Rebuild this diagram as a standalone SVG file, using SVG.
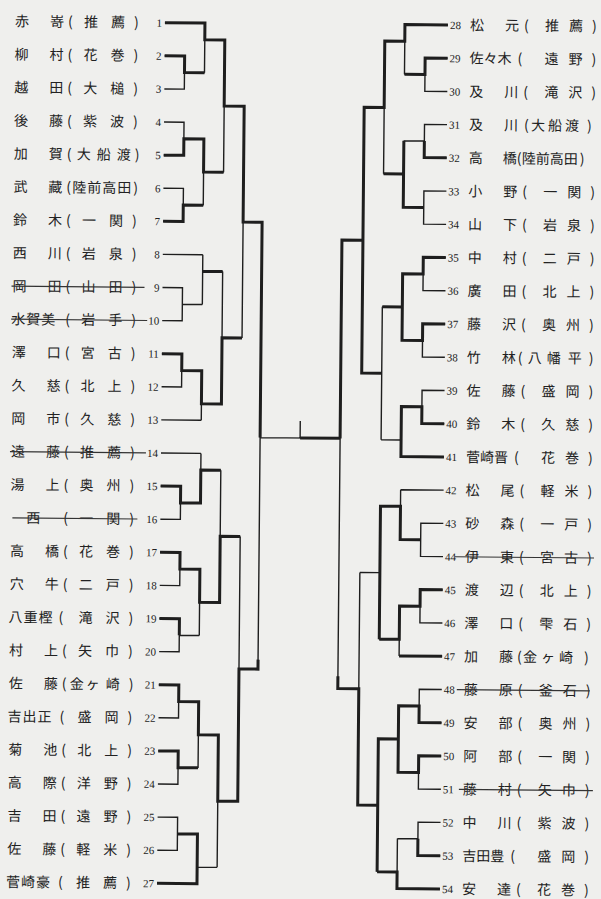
<svg xmlns="http://www.w3.org/2000/svg" width="601" height="899" viewBox="0 0 601 899">
<style>
.n{font-family:"Noto Sans CJK JP","Noto Sans CJK SC",sans-serif;font-size:14px;fill:#222}
.m{font-family:"Liberation Serif",serif;font-size:11px;fill:#222}
.ml{font-family:"Liberation Serif",serif;font-size:11px;fill:#222;text-anchor:end}
.t{fill:none;stroke:#1e1e1e;stroke-width:1.4}
.k{fill:none;stroke:#1e1e1e;stroke-width:3;stroke-linejoin:miter}
.s{stroke:#333;stroke-width:1.2}
</style>
<rect width="601" height="899" fill="#efefed"/>
<g transform="rotate(0.53 300 450)">
<g id="players-left">
<g id="p1"><text class="n" x="11 46" y="29">赤嵜</text><text class="n" x="64 80 107 130" y="29">(推薦)</text><text class="ml" x="158" y="28">1</text></g>
<g id="p2"><text class="n" x="11 46" y="62.1">柳村</text><text class="n" x="64 80 107 130" y="62.1">(花巻)</text><text class="ml" x="158" y="61.1">2</text></g>
<g id="p3"><text class="n" x="11 46" y="95.2">越田</text><text class="n" x="64 80 107 130" y="95.2">(大槌)</text><text class="ml" x="158" y="94.2">3</text></g>
<g id="p4"><text class="n" x="11 46" y="128.3">後藤</text><text class="n" x="64 80 107 130" y="128.3">(紫波)</text><text class="ml" x="158" y="127.3">4</text></g>
<g id="p5"><text class="n" x="11 46" y="161.4">加賀</text><text class="n" x="64 74 94 114 132" y="161.4">(大船渡)</text><text class="ml" x="158" y="160.4">5</text></g>
<g id="p6"><text class="n" x="11 46" y="194.5">武藏</text><text class="n" x="64 70 85 100 115 131" y="194.5">(陸前高田)</text><text class="ml" x="158" y="193.5">6</text></g>
<g id="p7"><text class="n" x="11 46" y="227.6">鈴木</text><text class="n" x="64 80 107 130" y="227.6">(一関)</text><text class="ml" x="158" y="226.6">7</text></g>
<g id="p8"><text class="n" x="11 46" y="260.7">西川</text><text class="n" x="64 80 107 130" y="260.7">(岩泉)</text><text class="ml" x="158" y="259.7">8</text></g>
<g id="p9"><text class="n" x="11 46" y="293.8">岡田</text><text class="n" x="64 80 107 130" y="293.8">(山田)</text><text class="ml" x="158" y="292.8">9</text><line class="s" x1="10" y1="288.8" x2="143" y2="288.8"/></g>
<g id="p10"><text class="n" x="10 25 40" y="326.9">水賀美</text><text class="n" x="64 80 107 130" y="326.9">(岩手)</text><text class="ml" x="158" y="325.9">10</text><line class="s" x1="10" y1="321.9" x2="146" y2="321.9"/></g>
<g id="p11"><text class="n" x="11 46" y="360">澤口</text><text class="n" x="64 80 107 130" y="360">(宮古)</text><text class="ml" x="158" y="359">11</text></g>
<g id="p12"><text class="n" x="11 46" y="393.1">久慈</text><text class="n" x="64 80 107 130" y="393.1">(北上)</text><text class="ml" x="158" y="392.1">12</text></g>
<g id="p13"><text class="n" x="11 46" y="426.2">岡市</text><text class="n" x="64 80 107 130" y="426.2">(久慈)</text><text class="ml" x="158" y="425.2">13</text></g>
<g id="p14"><text class="n" x="11 46" y="459.3">遠藤</text><text class="n" x="64 80 107 130" y="459.3">(推薦)</text><text class="ml" x="158" y="458.3">14</text><line class="s" x1="10" y1="454.3" x2="146" y2="454.3"/></g>
<g id="p15"><text class="n" x="11 46" y="492.4">湯上</text><text class="n" x="64 80 107 130" y="492.4">(奥州)</text><text class="ml" x="158" y="491.4">15</text></g>
<g id="p16"><text class="n" x="27" y="525.5">西</text><text class="n" x="64 80 107 130" y="525.5">(一関)</text><text class="ml" x="158" y="524.5">16</text><line class="s" x1="13" y1="520.5" x2="138" y2="520.5"/></g>
<g id="p17"><text class="n" x="11 46" y="558.6">高橋</text><text class="n" x="64 80 107 130" y="558.6">(花巻)</text><text class="ml" x="158" y="557.6">17</text></g>
<g id="p18"><text class="n" x="11 46" y="591.7">穴牛</text><text class="n" x="64 80 107 130" y="591.7">(二戸)</text><text class="ml" x="158" y="590.7">18</text></g>
<g id="p19"><text class="n" x="10 25 40" y="624.8">八重樫</text><text class="n" x="60 80 107 130" y="624.8">(滝沢)</text><text class="ml" x="158" y="623.8">19</text></g>
<g id="p20"><text class="n" x="11 46" y="657.9">村上</text><text class="n" x="64 80 107 130" y="657.9">(矢巾)</text><text class="ml" x="158" y="656.9">20</text></g>
<g id="p21"><text class="n" x="11 46" y="691">佐藤</text><text class="n" x="64 72 88 108 131" y="691">(金ヶ崎)</text><text class="ml" x="158" y="690">21</text></g>
<g id="p22"><text class="n" x="10 25 40" y="724.1">吉出正</text><text class="n" x="62 80 107 130" y="724.1">(盛岡)</text><text class="ml" x="158" y="723.1">22</text></g>
<g id="p23"><text class="n" x="11 46" y="757.2">菊池</text><text class="n" x="64 80 107 130" y="757.2">(北上)</text><text class="ml" x="158" y="756.2">23</text></g>
<g id="p24"><text class="n" x="11 46" y="790.3">高際</text><text class="n" x="64 80 107 130" y="790.3">(洋野)</text><text class="ml" x="158" y="789.3">24</text></g>
<g id="p25"><text class="n" x="11 46" y="823.4">吉田</text><text class="n" x="64 80 107 130" y="823.4">(遠野)</text><text class="ml" x="158" y="822.4">25</text></g>
<g id="p26"><text class="n" x="11 46" y="856.5">佐藤</text><text class="n" x="64 80 107 130" y="856.5">(軽米)</text><text class="ml" x="158" y="855.5">26</text></g>
<g id="p27"><text class="n" x="10 25 40" y="889.6">菅崎豪</text><text class="n" x="62 80 107 130" y="889.6">(推薦)</text><text class="ml" x="158" y="888.6">27</text></g>
</g>
<g id="players-right">
<g id="p28"><text class="m" x="446" y="27.6">28</text><text class="n" x="466 501" y="28.6">松元</text><text class="n" x="520 541 565 588" y="28.6">(推薦)</text></g>
<g id="p29"><text class="m" x="446" y="60.8">29</text><text class="n" x="466 480 494" y="61.8">佐々木</text><text class="n" x="514 541 565 588" y="61.8">(遠野)</text></g>
<g id="p30"><text class="m" x="446" y="94.1">30</text><text class="n" x="466 501" y="95.1">及川</text><text class="n" x="520 541 565 588" y="95.1">(滝沢)</text></g>
<g id="p31"><text class="m" x="446" y="127.3">31</text><text class="n" x="466 501" y="128.3">及川</text><text class="n" x="521 528 545 562" y="128.3">(大船渡</text><text class="n" x="584" y="128.3">)</text></g>
<g id="p32"><text class="m" x="446" y="160.5">32</text><text class="n" x="466 500" y="161.5">高橋</text><text class="n" x="514 519 533 547 561 577" y="161.5">(陸前高田)</text></g>
<g id="p33"><text class="m" x="446" y="193.8">33</text><text class="n" x="466 501" y="194.8">小野</text><text class="n" x="520 541 565 588" y="194.8">(一関)</text></g>
<g id="p34"><text class="m" x="446" y="227">34</text><text class="n" x="466 501" y="228">山下</text><text class="n" x="520 541 565 588" y="228">(岩泉)</text></g>
<g id="p35"><text class="m" x="446" y="260.2">35</text><text class="n" x="466 501" y="261.2">中村</text><text class="n" x="520 541 565 588" y="261.2">(二戸)</text></g>
<g id="p36"><text class="m" x="446" y="293.4">36</text><text class="n" x="466 501" y="294.4">廣田</text><text class="n" x="520 541 565 588" y="294.4">(北上)</text></g>
<g id="p37"><text class="m" x="446" y="326.7">37</text><text class="n" x="466 501" y="327.7">藤沢</text><text class="n" x="520 541 565 588" y="327.7">(奥州)</text></g>
<g id="p38"><text class="m" x="446" y="359.9">38</text><text class="n" x="466 501" y="360.9">竹林</text><text class="n" x="517 527 546 567 588" y="360.9">(八幡平)</text></g>
<g id="p39"><text class="m" x="446" y="393.1">39</text><text class="n" x="466 501" y="394.1">佐藤</text><text class="n" x="520 541 565 588" y="394.1">(盛岡)</text></g>
<g id="p40"><text class="m" x="446" y="426.4">40</text><text class="n" x="466 501" y="427.4">鈴木</text><text class="n" x="520 541 565 588" y="427.4">(久慈)</text></g>
<g id="p41"><text class="m" x="446" y="459.6">41</text><text class="n" x="466 480 494" y="460.6">菅崎晋</text><text class="n" x="514 541 565 588" y="460.6">(花巻)</text></g>
<g id="p42"><text class="m" x="446" y="492.8">42</text><text class="n" x="466 501" y="493.8">松尾</text><text class="n" x="520 541 565 588" y="493.8">(軽米)</text></g>
<g id="p43"><text class="m" x="446" y="526">43</text><text class="n" x="466 501" y="527">砂森</text><text class="n" x="520 541 565 588" y="527">(一戸)</text></g>
<g id="p44"><text class="m" x="446" y="559.3">44</text><text class="n" x="466 501" y="560.3">伊東</text><text class="n" x="520 541 565 588" y="560.3">(宮古)</text><line class="s" x1="456" y1="555.3" x2="595" y2="555.3"/></g>
<g id="p45"><text class="m" x="446" y="592.5">45</text><text class="n" x="466 501" y="593.5">渡辺</text><text class="n" x="520 541 565 588" y="593.5">(北上)</text></g>
<g id="p46"><text class="m" x="446" y="625.7">46</text><text class="n" x="466 501" y="626.7">澤口</text><text class="n" x="520 541 565 588" y="626.7">(雫石)</text></g>
<g id="p47"><text class="m" x="446" y="659">47</text><text class="n" x="466 501" y="660">加藤</text><text class="n" x="519 525 543 561" y="660">(金ヶ崎</text><text class="n" x="586" y="660">)</text></g>
<g id="p48"><text class="m" x="446" y="692.2">48</text><text class="n" x="466 501" y="693.2">藤原</text><text class="n" x="520 541 565 588" y="693.2">(釜石)</text><line class="s" x1="459" y1="688.2" x2="592" y2="688.2"/></g>
<g id="p49"><text class="m" x="446" y="725.4">49</text><text class="n" x="466 501" y="726.4">安部</text><text class="n" x="520 541 565 588" y="726.4">(奥州)</text></g>
<g id="p50"><text class="m" x="446" y="758.7">50</text><text class="n" x="466 501" y="759.7">阿部</text><text class="n" x="520 541 565 588" y="759.7">(一関)</text></g>
<g id="p51"><text class="m" x="446" y="791.9">51</text><text class="n" x="466 501" y="792.9">藤村</text><text class="n" x="520 541 565 588" y="792.9">(矢巾)</text><line class="s" x1="462" y1="787.9" x2="596" y2="787.9"/></g>
<g id="p52"><text class="m" x="446" y="825.1">52</text><text class="n" x="466 501" y="826.1">中川</text><text class="n" x="520 541 565 588" y="826.1">(紫波)</text></g>
<g id="p53"><text class="m" x="446" y="858.4">53</text><text class="n" x="466 480 494" y="859.4">吉田豊</text><text class="n" x="514 541 565 588" y="859.4">(盛岡)</text></g>
<g id="p54"><text class="m" x="446" y="891.6">54</text><text class="n" x="466 501" y="892.6">安達</text><text class="n" x="520 541 565 588" y="892.6">(花巻)</text></g>
</g>
<g id="connectors">
<path class="t" d="M161 24H201M161 57.1H181V90.2H161M181 73.7H201M201 24V73.7M201 40.6H221
M161 123.3H181V156.4H161M181 139.9H201M161 189.5H181V222.6H161M181 206.1H201M201 139.9V206.1M201 173H221M221 40.6V173M221 106.8H241
M161 255.7H201M161 288.8H181V321.9H161M181 305.4H201M201 255.7V305.4M201 272.3H221
M161 355H181V388.1H161M181 371.6H201M161 421.2H201M201 371.6V421.2M201 404.7H221M221 272.3V404.7M221 338.5H241
M241 106.8V338.5M241 222.6H260
M161 454.3H201M161 487.4H181V520.5H161M181 504H201M201 454.3V504M201 470.9H221
M161 553.6H181V586.7H161M181 570.2H201M161 619.8H181V652.9H161M181 636.4H201M201 570.2V636.4M201 603.3H221M221 470.9V603.3M221 537.1H241
M161 686H181V719.1H161M181 702.6H201M161 752.2H181V785.3H161M181 768.8H201M201 702.6V768.8M201 735.7H221
M161 818.4H181V851.5H161M181 835H201M161 884.6H201M201 835V884.6M201 868.1H221M221 735.7V868.1M221 801.9H241
M241 537.1V801.9M241 669.5H260M260 222.6V669.5M260 438H340M300 421V438"/>
<path class="t" d="M444 23.6H401M444 56.8H421.5V90.1H444M421.5 73.4H401M401 23.6V73.4M401 40.2H381
M444 123.3H421.5V156.5H444M421.5 139.9H401M444 189.8H421.5V223H444M421.5 206.4H401M401 139.9V206.4M401 173.1H381M381 40.2V173.1M381 106.7H361
M444 256.2H421.5V289.4H444M421.5 272.8H401M444 322.7H421.5V355.9H444M421.5 339.3H401M401 272.8V339.3M401 306H381
M444 389.1H421.5V422.4H444M421.5 405.7H401M444 455.6H401M401 405.7V455.6M401 439H381M381 306V439M381 372.5H361M361 106.7V372.5M361 239.6H340
M444 488.8H401M444 522H421.5V555.3H444M421.5 538.7H401M401 488.8V538.7M401 505.4H381
M444 588.5H421.5V621.7H444M421.5 605.1H401M444 655H401M401 605.1V655M401 638.4H381M381 505.4V638.4M381 571.9H361
M444 688.2H421.5V721.4H444M421.5 704.8H401M444 754.7H421.5V787.9H444M421.5 771.3H401M401 704.8V771.3M401 738H381
M444 821.1H421.5V854.4H444M421.5 837.7H401M444 887.6H401M401 837.7V887.6M401 871H381M381 738V871M381 804.5H361
M361 571.9V804.5M361 688.2H340M340 239.6V688.2"/>
<path class="k" d="M161 24H201V40.6H221V106.8H241V222.6H260V438
M161 57.1H181V73.7H201M161 156.4H181V139.9H201V173H221M161 222.6H181V206.1H201M201 272.3H221
M161 355H181V371.6H201V404.7H221V338.5H241
M161 487.4H181V504H201V470.9H221M161 553.6H181V570.2H201V603.3H221V537.1H241M161 619.8H181V636.4
M161 686H181V702.6H201V735.7H221V801.9H241V669.5H260V660M161 752.2H181V768.8H201M161 884.6H201V835H181
M300 438H340"/>
<path class="k" d="M444 23.6H401V40.2H381V106.7H361V239.6H340V438
M444 56.8H421.5V73.4H401M444 156.5H421.5V139.9M401 139.9V206.4H421.5M401 173.1H381
M444 256.2H421.5V272.8H401V306H381M444 322.7H421.5V339.3H401V306M381 372.5H361V239.6
M444 422.4H421.5V405.7H401V455.6H444M421.5 538.7H401V505.4H381V638.4
M444 588.5H421.5V605.1H401V638.4H381M444 655H401
M444 721.4H421.5V704.8H401V771.3H421.5V754.7H444M401 738H381V871M381 804.5H361V688.2H340V676
M444 854.4H421.5V837.7M444 887.6H401V871H381"/>
</g>
</g>
</svg>
